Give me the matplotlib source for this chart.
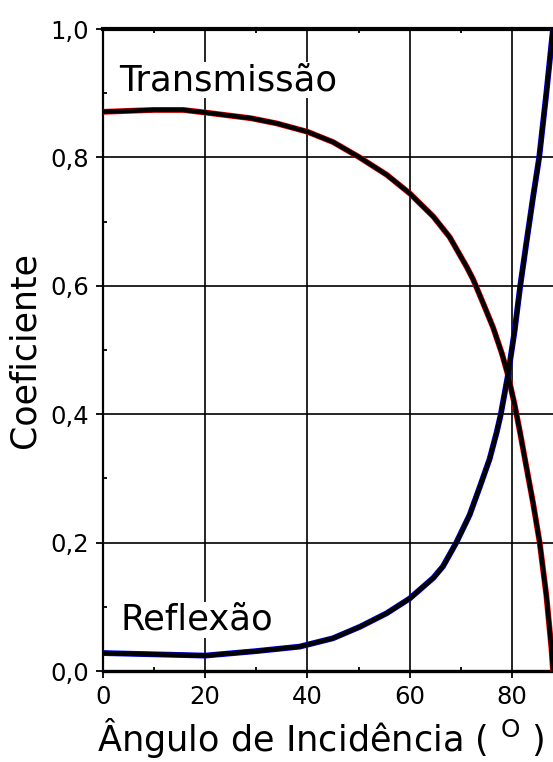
import numpy as np
import matplotlib
matplotlib.use('Agg')
import matplotlib.pyplot as plt
from matplotlib.ticker import MultipleLocator, FuncFormatter

# Curvas
anguloT = [0, 10, 15.7, 20, 29, 34, 40, 45, 50, 55.5, 60, 64.6, 67.8, 71.1, 72.4, 74.5, 76.3, 78.0,
           79.2, 80.5, 81.6, 82.8, 84.1, 85.4, 86.7, 87.7, 88]
transmissao = [0.871, 0.874, 0.874, 0.870, 0.861, 0.853, 0.840, 0.824, 0.801, 0.773, 0.744,
               0.708, 0.676, 0.630, 0.610, 0.570, 0.535, 0.495, 0.461, 0.415, 0.370, 0.318,
               0.262, 0.200, 0.118, 0.035, 0.0]

anguloR = [0, 10, 20, 30, 38.5, 45, 50.3, 55.5, 60, 64.6, 66.5, 69.1, 71.7, 73.7, 75.6, 77.0,
           77.8, 79.2, 80.5, 81.6, 82.8, 84.1, 85.3, 86.7, 88]
reflexao = [0.028, 0.026, 0.024, 0.031, 0.038, 0.051, 0.069, 0.090, 0.113, 0.145, 0.163, 0.200,
            0.243, 0.287, 0.330, 0.372, 0.400, 0.461, 0.530, 0.600, 0.667, 0.738, 0.800, 0.900, 1.0]

xticks = [0, 20, 40, 60, 80]
yticks = [0.0, 0.2, 0.4, 0.6, 0.8, 1.0]

fig = plt.figure(figsize=(5.53, 7.62), dpi=100)
ax = fig.add_axes([0.1857, 0.1194, 0.8143, 0.8425])

# grade
for xv in xticks[1:]:
    ax.axvline(xv, color='black', lw=1.2, zorder=1)
for yv in yticks[1:-1]:
    ax.axhline(yv, color='black', lw=1.2, zorder=1)

# linhas com borda colorida
ax.plot(anguloT, transmissao, color='red', lw=4.2, zorder=3, solid_joinstyle='round')
ax.plot(anguloT, transmissao, color='black', lw=3.3, zorder=4, solid_joinstyle='round')
ax.plot(anguloR, reflexao, color='blue', lw=4.2, zorder=3, solid_joinstyle='round')
ax.plot(anguloR, reflexao, color='black', lw=3.3, zorder=4, solid_joinstyle='round')

ax.text(3.3, 0.905, 'Transmissão', fontsize=25.5, family='DejaVu Sans', zorder=2,
        bbox=dict(facecolor='white', edgecolor='none', pad=1))
ax.text(3.5, 0.064, 'Reflexão', fontsize=25.5, family='DejaVu Sans', zorder=2,
        bbox=dict(facecolor='white', edgecolor='none', pad=1))

ax.set_xlim(0, 88)
ax.set_ylim(0, 1.0)
ax.set_xticks(xticks)
ax.set_yticks(yticks)
ax.xaxis.set_minor_locator(MultipleLocator(10))
ax.yaxis.set_minor_locator(MultipleLocator(0.1))
ax.yaxis.set_major_formatter(FuncFormatter(lambda v, p: ('%.1f' % v).replace('.', ',')))

ax.tick_params(which='major', direction='out', length=5, width=1.3, labelsize=17.5, pad=5)
ax.tick_params(which='minor', direction='out', length=3, width=1.3)
ax.tick_params(top=True, which='minor', direction='in')
for lab in ax.get_xticklabels() + ax.get_yticklabels():
    lab.set_family('DejaVu Sans')

ax.spines['right'].set_visible(False)
ax.spines['top'].set_linewidth(3)
ax.spines['bottom'].set_linewidth(2.4)
ax.spines['left'].set_linewidth(1.6)

ax.set_xlabel('Ângulo de Incidência ( $^\\mathregular{O}$ )', fontsize=25.3, family='DejaVu Sans')
ax.xaxis.set_label_coords(0.485, -0.07)
ax.set_ylabel('Coeficiente', fontsize=25, family='DejaVu Sans', labelpad=6)

fig.savefig('out.png', dpi=100)
